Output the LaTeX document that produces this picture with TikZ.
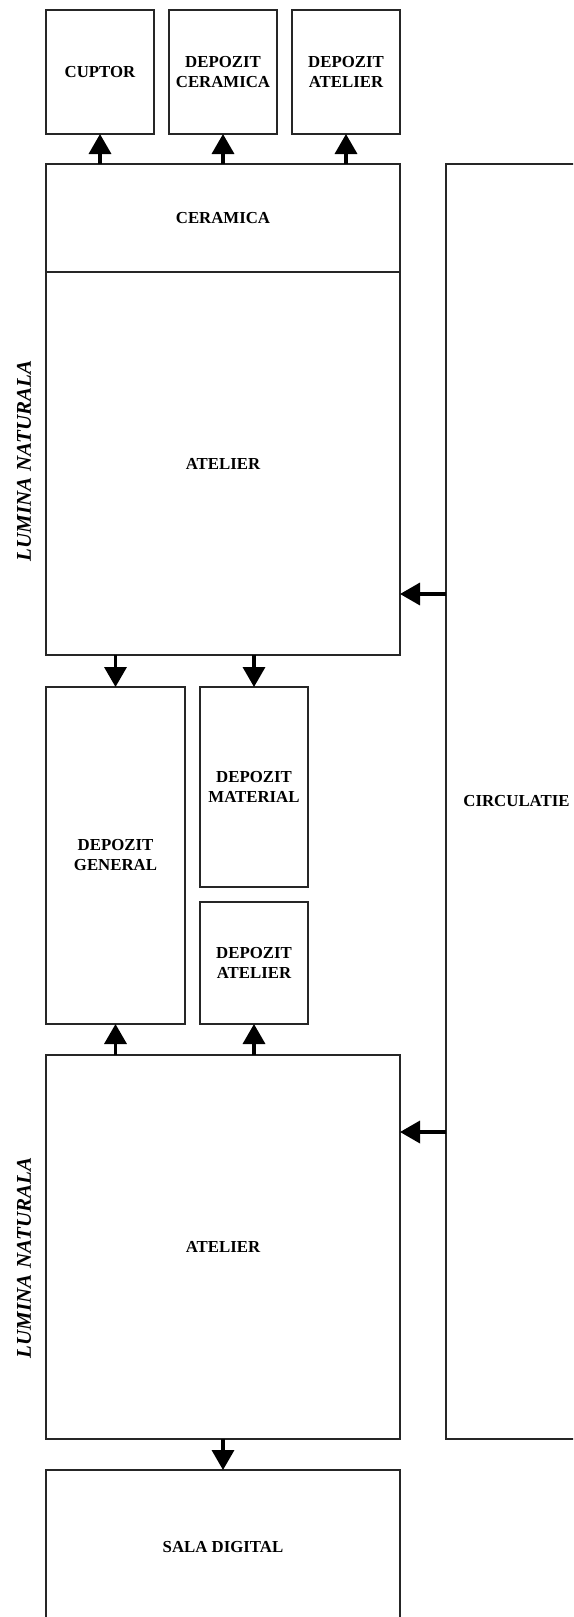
\documentclass[tikz,border=0pt]{standalone}
\usepackage{fontspec}
\setmainfont{Liberation Serif}
\usetikzlibrary{arrows.meta, positioning}

\begin{document}
\begin{tikzpicture}[
    x=1pt, y=-1pt,
    node distance=15pt,
    room/.style={rectangle, draw=black!85, line width=1.2pt, inner sep=0pt, outer sep=0pt, align=center, font=\fontsize{16.8}{20}\selectfont\bfseries},
    smallroom/.style={room, minimum width=108pt},
    wideroom/.style={room, minimum width=354pt},
    lightlabel/.style={rotate=90, inner sep=0pt, font=\fontsize{21}{25}\selectfont\bfseries\itshape},
    arrow/.style={-{Triangle[width=22pt,length=20pt]}, line width=3.5pt},
]
    \useasboundingbox (0,0) rectangle (573,1617);
    \clip (0,0) rectangle (573,1617);

    % top row
    \node[smallroom, minimum height=124pt] at (100,72) (cuptor) {CUPTOR};
    \node[smallroom, minimum height=124pt, right=of cuptor] (depcer) {DEPOZIT\\CERAMICA};
    \node[smallroom, minimum height=124pt, right=of depcer] (depat) {DEPOZIT\\ATELIER};

    \node[wideroom, minimum height=108pt] at (223,218) (ceramica) {CERAMICA};
    \node[wideroom, minimum height=383pt, below=0pt of ceramica] (atelierA) {ATELIER};

    % middle storage
    \node[room, minimum width=139pt, minimum height=337pt] at (115.5,855.5) (depgen) {DEPOZIT\\GENERAL};
    \node[smallroom, minimum height=200pt] at (254,787) (depmat) {DEPOZIT\\MATERIAL};
    \node[smallroom, minimum height=122pt] at (254,963) (depatB) {DEPOZIT\\ATELIER};

    \node[wideroom, minimum height=384pt] at (223,1247) (atelierB) {ATELIER};
    \node[wideroom, minimum height=154pt] at (223,1547) (sala) {SALA DIGITAL};

    \node[room, minimum width=141pt, minimum height=1275pt] at (516.5,801.5) (circulatie) {CIRCULATIE};

    \node[lightlabel] at (24,461) (luminaA) {LUMINA NATURALA};
    \node[lightlabel] at (24,1258) (luminaB) {LUMINA NATURALA};

    \coordinate (inA) at ([yshift=-130.5pt]atelierA.east);
    \coordinate (inB) at ([yshift=115pt]atelierB.east);

    \draw[arrow] (ceramica.north -| cuptor) -- (cuptor.south);
    \draw[arrow] (ceramica.north -| depcer) -- (depcer.south);
    \draw[arrow] (ceramica.north -| depat) -- (depat.south);
    \draw[arrow] (atelierA.south -| depgen) -- (depgen.north);
    \draw[arrow] (atelierA.south -| depmat) -- (depmat.north);
    \draw[arrow] (atelierB.north -| depgen) -- (depgen.south);
    \draw[arrow] (atelierB.north -| depatB) -- (depatB.south);
    \draw[arrow] (atelierB.south) -- (sala.north);
    \draw[arrow] (circulatie.west |- inA) -- (inA);
    \draw[arrow] (circulatie.west |- inB) -- (inB);
\end{tikzpicture}
\end{document}
